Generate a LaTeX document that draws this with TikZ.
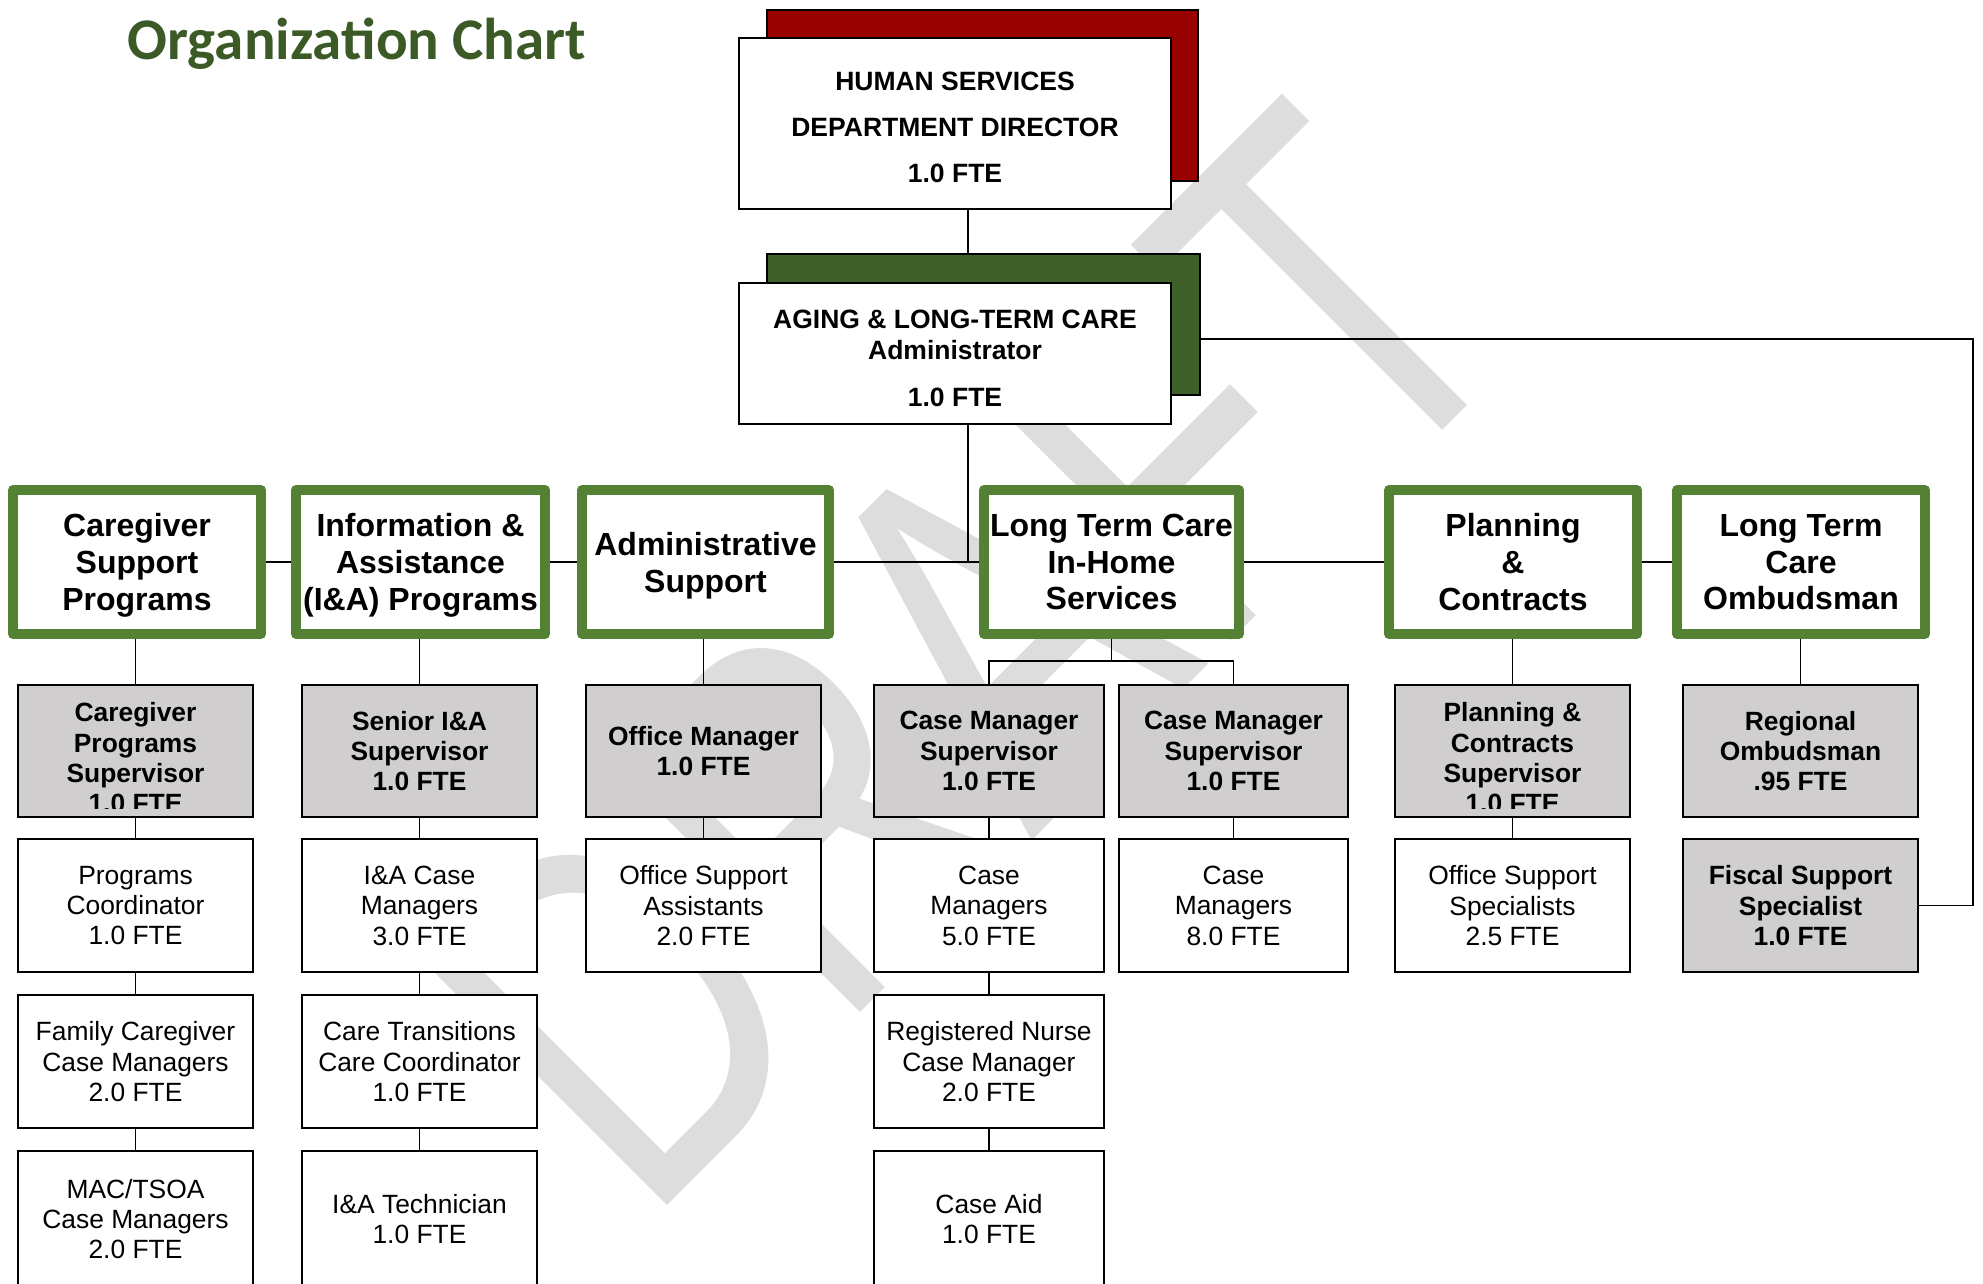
\documentclass[tikz,border=0pt]{standalone}
\usepackage{fontspec}
\setmainfont{Liberation Sans}
\newfontfamily\titlefont{Carlito}
\usepackage{graphicx}
\usetikzlibrary{calc}
\definecolor{hdrgreen}{HTML}{548235}
\definecolor{shgreen}{HTML}{3F6129}
\definecolor{ttlgreen}{HTML}{3B5A26}
\definecolor{shred}{HTML}{990000}
\definecolor{boxgray}{HTML}{D0CECE}
\definecolor{wmgray}{HTML}{DDDDDD}
\pgfdeclarelayer{wm}
\pgfdeclarelayer{background}
\pgfsetlayers{wm,background,main}
\begin{document}
\begin{tikzpicture}[x=1pt,y=-1pt,
  hdr/.style={draw=hdrgreen, line width=10pt, fill=white, minimum height=144pt, inner sep=0pt, align=center, text depth=0pt, font=\fontsize{32}{36.8}\selectfont\bfseries, line join=round},
  subbox/.style={draw=black, line width=2pt, inner sep=0pt, align=center, text depth=0pt},
  gbox/.style={subbox, fill=boxgray, font=\fontsize{26.4}{30.4}\selectfont\bfseries},
  wbox/.style={subbox, fill=white, font=\fontsize{26.4}{30.4}\selectfont},
  gtext/.style={inner sep=0pt, align=center, text depth=0pt, font=\fontsize{26.4}{30.4}\selectfont\bfseries},
  topbox/.style={draw=black, line width=2pt, fill=white, inner sep=0pt},
  toptext/.style={inner sep=0pt, align=center, text depth=0pt, font=\fontsize{26.5}{31}\selectfont\bfseries},
  shbox/.style={draw=black, line width=2pt, inner sep=0pt},
  conn/.style={draw=black, line width=1.5pt},
  c1/.style={minimum width=235pt}, c2/.style={minimum width=235pt}, c3/.style={minimum width=235pt},
  c4/.style={minimum width=230pt}, c5/.style={minimum width=229pt}, c6/.style={minimum width=235pt},
  c7/.style={minimum width=235pt},
  r1/.style={minimum height=132pt}, r2/.style={minimum height=133pt}, r3/.style={minimum height=133pt},
  r4/.style={minimum height=136pt},
]
\useasboundingbox (0,0) rectangle (1983,1283);

% title
\node[anchor=base, inner sep=0pt, text=ttlgreen, font=\titlefont\bfseries\fontsize{59}{61}\selectfont] (title) at (357,59) {Organization Chart};

% director
\node[shbox, fill=shred, minimum width=431pt, minimum height=171pt] (dir-sh) at (982.5,95.5) {};
\node[topbox, minimum width=432pt, minimum height=171pt] (dir) at (955,123.5) {};
\node[toptext, font=\fontsize{26.5}{46}\selectfont\bfseries] (dir-t) at (955,127) {HUMAN SERVICES\\DEPARTMENT DIRECTOR\\1.0 FTE};

% aging
\node[shbox, fill=shgreen, minimum width=433pt, minimum height=141pt] (aging-sh) at (983.5,324.5) {};
\node[topbox, minimum width=432pt, minimum height=141pt] (aging) at (955,353.5) {};
\node[toptext] (aging-t) at (955,358) {AGING \& LONG-TERM CARE\\Administrator\\[16pt]1.0 FTE};

% headers
\node[hdr, minimum width=248pt] (h1) at (137,562) {Caregiver\\Support\\Programs};
\node[hdr, minimum width=249pt] (h2) at (420.5,562) {Information \&\\Assistance\\(I\&A) Programs};
\node[hdr, minimum width=247pt] (h3) at (705.5,562) {Administrative\\Support};
\node[hdr, minimum width=255pt] (h4) at (1111.5,562) {Long Term Care\\In-Home\\Services};
\node[hdr, minimum width=248pt] (h5) at (1513,562) {Planning\\\&\\Contracts};
\node[hdr, minimum width=248pt] (h6) at (1801,562) {Long Term\\Care\\Ombudsman};

% row 1 (gray)
\node[gbox, c1, r1] (g1) at (135.5,751) {};
\node[gbox, c2, r1] (g2) at (419.5,751) {Senior I\&A\\Supervisor\\1.0 FTE};
\node[gbox, c3, r1] (g3) at (703.5,751) {Office Manager\\1.0 FTE};
\node[gbox, c4, r1] (g4) at (989,751) {Case Manager\\Supervisor\\1.0 FTE};
\node[gbox, c5, r1] (g5) at (1233.5,751) {Case Manager\\Supervisor\\1.0 FTE};
\node[gbox, c6, r1] (g6) at (1512.5,751) {};
\node[gbox, c7, r1] (g7) at (1800.5,751) {Regional\\Ombudsman\\.95 FTE};
\begin{scope}
  \clip (18,690) rectangle (253,808);
  \node[gtext] (g1t) at (135.5,757.8) {Caregiver\\Programs\\Supervisor\\1.0 FTE};
\end{scope}
\begin{scope}
  \clip (1395,690) rectangle (1630,808);
  \node[gtext] (g6t) at (1512.5,757.8) {Planning \&\\Contracts\\Supervisor\\1.0 FTE};
\end{scope}

% row 2
\node[wbox, c1, r2] (w1) at (135.5,905.5) {Programs\\Coordinator\\1.0 FTE};
\node[wbox, c2, r2] (w2) at (419.5,905.5) {I\&A Case\\Managers\\3.0 FTE};
\node[wbox, c3, r2] (w3) at (703.5,905.5) {Office Support\\Assistants\\2.0 FTE};
\node[wbox, c4, r2] (w4) at (989,905.5) {Case\\Managers\\5.0 FTE};
\node[wbox, c5, r2] (w5) at (1233.5,905.5) {Case\\Managers\\8.0 FTE};
\node[wbox, c6, r2] (w6) at (1512.5,905.5) {Office Support\\Specialists\\2.5 FTE};
\node[gbox, c7, r2] (fiscal) at (1800.5,905.5) {Fiscal Support\\Specialist\\1.0 FTE};

% row 3
\node[wbox, c1, r3] (x1) at (135.5,1061.5) {Family Caregiver\\Case Managers\\2.0 FTE};
\node[wbox, c2, r3] (x2) at (419.5,1061.5) {Care Transitions\\Care Coordinator\\1.0 FTE};
\node[wbox, c4, r3] (x4) at (989,1061.5) {Registered Nurse\\Case Manager\\2.0 FTE};

% row 4
\node[wbox, c1, r4] (y1) at (135.5,1219) {MAC/TSOA\\Case Managers\\2.0 FTE};
\node[wbox, c2, r4] (y2) at (419.5,1219) {I\&A Technician\\1.0 FTE};
\node[wbox, c4, r4] (y4) at (989,1219) {Case Aid\\1.0 FTE};

% connectors
\coordinate (hub) at (968,562);
\coordinate (bus) at (1112,661);
\coordinate (bend) at (1973,339);
\begin{pgfonlayer}{background}
  \draw[conn] ([xshift=13pt]dir.south) -- ([xshift=13pt]dir.south |- aging-sh.north);
  \draw[conn] ([xshift=13pt]aging.south) -- (hub);
  \draw[conn] (h1.east) -- (h6.west);
  \draw[conn] (fiscal.east) -| (bend) -- (aging-sh.east |- bend);
  \draw[conn] (g1.north) -- (g1.north |- h1.south);
  \draw[conn] (g2.north) -- (g2.north |- h2.south);
  \draw[conn] (g3.north) -- (g3.north |- h3.south);
  \draw[conn] (g6.north) -- (g6.north |- h5.south);
  \draw[conn] (g7.north) -- (g7.north |- h6.south);
  \draw[conn] (h4.south) -- (h4.south |- bus);
  \draw[conn] (g4.north) -- (g4.north |- bus) -- (g5.north |- bus) -- (g5.north);
  \draw[conn] (g1.south) -- (w1.north);
  \draw[conn] (w1.south) -- (x1.north);
  \draw[conn] (x1.south) -- (y1.north);
  \draw[conn] (g2.south) -- (w2.north);
  \draw[conn] (w2.south) -- (x2.north);
  \draw[conn] (x2.south) -- (y2.north);
  \draw[conn] (g3.south) -- (w3.north);
  \draw[conn] (g4.south) -- (w4.north);
  \draw[conn] (w4.south) -- (x4.north);
  \draw[conn] (x4.south) -- (y4.north);
  \draw[conn] (g5.south) -- (w5.north);
  \draw[conn] (g6.south) -- (w6.north);
\end{pgfonlayer}

% watermark
\begin{pgfonlayer}{wm}
  \node[inner sep=0pt, text=wmgray, rotate=45, font=\fontsize{378}{378}\selectfont] (wm) at (967,657.5) {\scalebox{1}[1.35]{DRAFT}};
\end{pgfonlayer}
\end{tikzpicture}
\end{document}
